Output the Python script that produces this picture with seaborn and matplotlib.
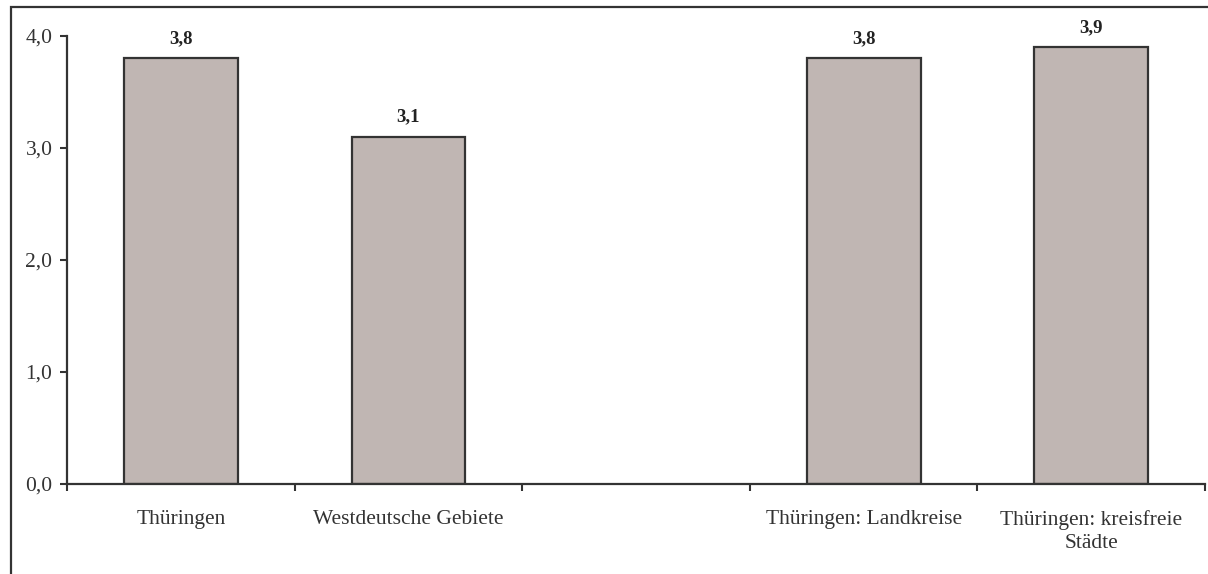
import numpy as np
import pandas as pd
import seaborn as sns
import matplotlib.pyplot as plt
from matplotlib.patches import Rectangle

# Chart data
categories = ["Thüringen", "Westdeutsche Gebiete", " ", "Thüringen: Landkreise", "Thüringen: kreisfreie\nStädte"]
values = [3.8, 3.1, np.nan, 3.8, 3.9]
value_labels = ["3,8", "3,1", "", "3,8", "3,9"]
yticks = [0.0, 1.0, 2.0, 3.0, 4.0]
ytick_labels = ["0,0", "1,0", "2,0", "3,0", "4,0"]

df = pd.DataFrame({"Kategorie": categories, "Wert": values})

sns.set_style("white")
plt.rcParams["font.family"] = ["Liberation Serif", "DejaVu Serif"]

W, H = 1208, 574
fig = plt.figure(figsize=(W / 100, H / 100), dpi=100)
ax = fig.add_axes([67 / W, 1 - 484 / H, (1205 - 67) / W, (484 - 36) / H])

sns.barplot(data=df, x="Kategorie", y="Wert", color="#c0b6b3", width=0.5,
            edgecolor="#333333", linewidth=1.6, saturation=1, ax=ax)

# value labels above bars
for i, (v, lab) in enumerate(zip(values, value_labels)):
    if not np.isnan(v):
        ax.text(i, v + 0.1, lab, ha="center", va="bottom", fontsize=13.5,
                fontweight="bold", color="#222222", clip_on=False)

ax.set_xlim(-0.5, len(categories) - 0.5)
ax.set_ylim(0, 4.0)
ax.set_yticks(yticks)
ax.set_yticklabels(ytick_labels, fontsize=15.5, color="#333333")

# category labels centred, tick marks at the slot boundaries
ax.set_xticks(range(len(categories)))
ax.set_xticklabels(categories, fontsize=15.5, color="#333333", linespacing=1.3)
ax.tick_params(axis="x", which="major", bottom=True, length=0, pad=19)
ax.set_xticks(np.arange(-0.5, len(categories)), minor=True)
ax.tick_params(axis="x", which="minor", bottom=True, direction="out", length=5,
               width=1.5, color="#333333")
ax.tick_params(axis="y", left=True, direction="out", length=5, width=1.5,
               color="#333333", pad=5.5)

ax.set_xlabel("")
ax.set_ylabel("")
for side in ["top", "right"]:
    ax.spines[side].set_visible(False)
for side in ["left", "bottom"]:
    ax.spines[side].set_color("#333333")
    ax.spines[side].set_linewidth(1.6)

# frame around the whole chart area
fig.patches.append(Rectangle((11 / W, -0.05), 1.1, 1 - 7 / H + 0.05,
                             transform=fig.transFigure, fill=False,
                             edgecolor="#333333", linewidth=1.6))

fig.savefig("out.png", dpi=100)
plt.close(fig)
